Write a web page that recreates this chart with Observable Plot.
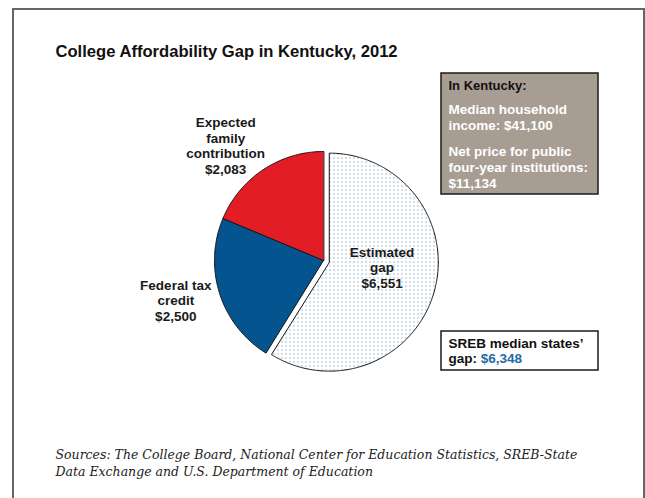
<!DOCTYPE html>
<html><head><meta charset="utf-8">
<script src="https://cdn.jsdelivr.net/npm/d3@7"></script>
<script src="https://cdn.jsdelivr.net/npm/@observablehq/plot@0.6"></script>
<style>
body{margin:0;background:#fff}
#wrap{position:relative;width:645px;height:498px;overflow:hidden}
#frame{position:absolute;left:12px;top:8px;width:629px;height:520px;border:2px solid #666;border-bottom:none;pointer-events:none}
</style>
</head><body>
<div id="wrap"><div id="chart"></div><div id="frame"></div></div>
<script>
// ---- data ----
const categories = ["Estimated gap", "Federal tax credit", "Expected family contribution"];
const values = [6551, 2500, 2083];
const sliceLabels = ["Estimated\ngap\n$6,551", "Federal tax\ncredit\n$2,500", "Expected\nfamily\ncontribution\n$2,083"];
const titleText = "College Affordability Gap in Kentucky, 2012";
const infoHeading = "In Kentucky:";
const infoParagraphs = ["Median household\nincome: $41,100", "Net price for public\nfour-year institutions:\n$11,134"];
const srebPrefix = "SREB median states’\ngap: ";
const srebValue = "$6,348";
const sourceText = "Sources: The College Board, National Center for Education Statistics, SREB-State\nData Exchange and U.S. Department of Education";

// ---- layout / style ----
const W = 645, H = 498;
const pieLayout = {cx: 323, cy: 260, r: 109, explode: [6, 0, 0]};
const sliceFill = ["url(#dots)", "#04558f", "#e31d25"];
// label placement per slice: radius from slice apex & angle shift (degrees)
const labelPolar = [{r: 53, shift: -10.5}, {r: 153, shift: 2.7}, {r: 151, shift: -6.7}];
const font = "'Liberation Sans', Arial, sans-serif";
const labelSize = 13.5, lh = 15.6 / 13.5;
const infoBox = {x1: 441, x2: 598, y1: 73, y2: 194, tx: 448, headingY: 85, paraY: [108, 150]};
const srebBox = {x1: 441, x2: 598, y1: 331, y2: 370, tx: 448, y: 350};

// ---- geometry from data ----
const arcs = d3.pie().sort(null).value(d => d.value)(categories.map((c, i) => ({cat: c, value: values[i], i})));
const slices = arcs.map(a => {
  const i = a.data.i, mid = (a.startAngle + a.endAngle) / 2;
  const ox = pieLayout.cx + pieLayout.explode[i] * Math.sin(mid);
  const oy = pieLayout.cy - pieLayout.explode[i] * Math.cos(mid);
  const pts = [{x: ox, y: oy}];
  const n = Math.max(2, Math.ceil((a.endAngle - a.startAngle) / 0.01));
  for (let k = 0; k <= n; k++) {
    const t = a.startAngle + (a.endAngle - a.startAngle) * k / n;
    pts.push({x: ox + pieLayout.r * Math.sin(t), y: oy - pieLayout.r * Math.cos(t)});
  }
  const la = mid + labelPolar[i].shift * Math.PI / 180;
  const label = {x: ox + labelPolar[i].r * Math.sin(la), y: oy - labelPolar[i].r * Math.cos(la), text: sliceLabels[i]};
  return {i, pts, label};
});

const marks = [];
slices.forEach(s => {
  marks.push(Plot.line(s.pts, {x: "x", y: "y", curve: "linear-closed", fill: sliceFill[s.i], stroke: "#111", strokeWidth: 1}));
});
marks.push(Plot.text(slices.map(s => s.label), {x: "x", y: "y", text: "text", fontSize: labelSize, fontWeight: "bold", lineHeight: lh, fill: "#1a1a1a", lineAnchor: "middle"}));
// title
marks.push(Plot.text([titleText], {x: 55, y: 56, text: d => d, textAnchor: "start", lineAnchor: "bottom", fontSize: 16.6, fontWeight: "bold", fill: "#111"}));
// info box
marks.push(Plot.rect([infoBox], {x1: "x1", x2: "x2", y1: "y1", y2: "y2", fill: "#a89d93", stroke: "#1a1a1a", strokeWidth: 1.5}));
marks.push(Plot.text([infoHeading], {x: infoBox.tx, y: infoBox.headingY, text: d => d, textAnchor: "start", lineAnchor: "middle", fontSize: 13, fontWeight: "bold", fill: "#111"}));
marks.push(Plot.text(infoParagraphs.map((t, k) => ({t, y: infoBox.paraY[k]})), {x: infoBox.tx, y: "y", text: "t", textAnchor: "start", lineAnchor: "top", dy: -6, fontSize: labelSize, fontWeight: "bold", lineHeight: 16 / 13.5, fill: "white"}));
// SREB box
marks.push(Plot.rect([srebBox], {x1: "x1", x2: "x2", y1: "y1", y2: "y2", fill: "white", stroke: "#1a1a1a", strokeWidth: 1.5}));
marks.push(Plot.text([srebPrefix + srebValue], {x: srebBox.tx, y: srebBox.y, text: d => d, textAnchor: "start", lineAnchor: "middle", fontSize: labelSize, fontWeight: "bold", lineHeight: lh, fill: "#111"}));
// sources
marks.push(Plot.text([sourceText], {x: 55, y: 461.5, text: d => d, textAnchor: "start", lineAnchor: "middle", fontSize: 12.5, fontStyle: "italic", fontFamily: "'DejaVu Serif', serif", lineHeight: 17 / 12.5, fill: "#222"}));

const chart = Plot.plot({
  width: W, height: H, margin: 0,
  x: {domain: [0, W], range: [0, W], axis: null},
  y: {domain: [0, H], range: [0, H], axis: null},
  style: {fontFamily: font, background: "white", overflow: "visible"},
  marks
});

// pattern for the dotted slice
const ns = "http://www.w3.org/2000/svg";
const defs = document.createElementNS(ns, "defs");
const pat = document.createElementNS(ns, "pattern");
pat.setAttribute("id", "dots"); pat.setAttribute("width", "4"); pat.setAttribute("height", "4"); pat.setAttribute("patternUnits", "userSpaceOnUse");
const bg = document.createElementNS(ns, "rect"); bg.setAttribute("width", "4"); bg.setAttribute("height", "4"); bg.setAttribute("fill", "white");
const dot = document.createElementNS(ns, "rect"); dot.setAttribute("x", "1"); dot.setAttribute("y", "1"); dot.setAttribute("width", "1"); dot.setAttribute("height", "1"); dot.setAttribute("fill", "#4f7eb0");
pat.appendChild(bg); pat.appendChild(dot); defs.appendChild(pat);
chart.insertBefore(defs, chart.firstChild);

// colour the SREB value
chart.querySelectorAll("text tspan").forEach(ts => {
  if (ts.textContent.endsWith(srebValue)) {
    const pre = ts.textContent.slice(0, -srebValue.length);
    ts.textContent = pre;
    const v = document.createElementNS(ns, "tspan");
    v.setAttribute("fill", "#1f6aa8");
    v.textContent = srebValue;
    ts.parentNode.insertBefore(v, ts.nextSibling);
  }
});
document.getElementById("chart").appendChild(chart);
</script>
</body></html>
